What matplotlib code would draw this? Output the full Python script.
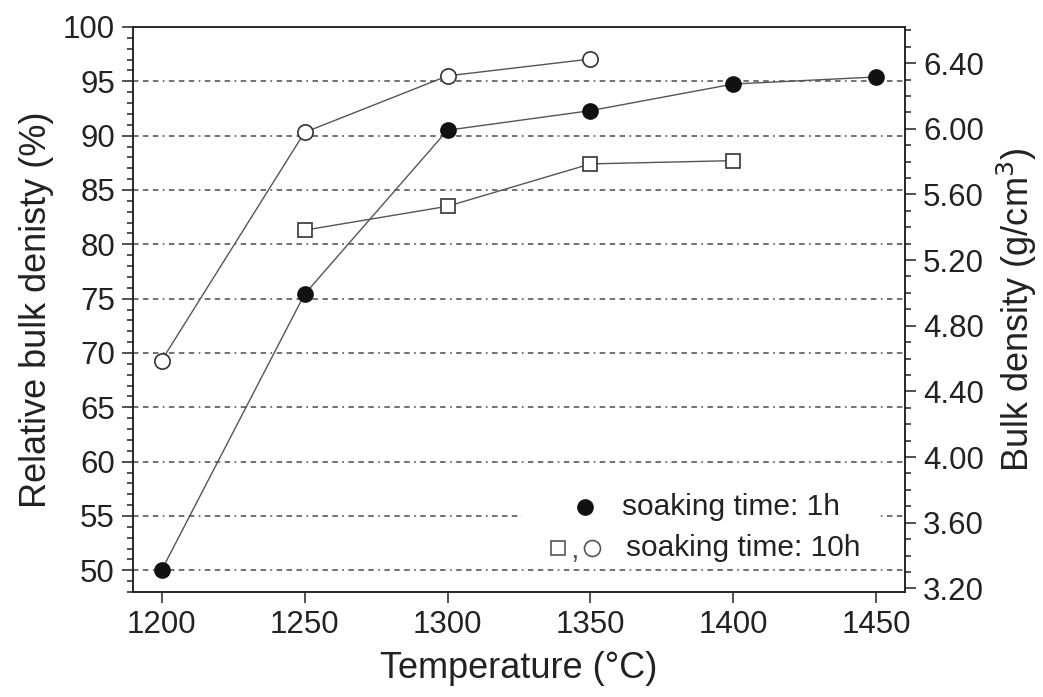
import matplotlib
matplotlib.use("Agg")
import matplotlib.pyplot as plt
from matplotlib.ticker import MultipleLocator, FormatStrFormatter
from matplotlib.patches import Rectangle

plt.rcParams['font.family'] = ['Liberation Sans', 'DejaVu Sans']

# Sintering temperature (°C)
temp_1h = [1200, 1250, 1300, 1350, 1400, 1450]
rel_1h = [50.0, 75.4, 90.5, 92.3, 94.75, 95.4]

temp_10h_circ = [1200, 1250, 1300, 1350]
rel_10h_circ = [69.3, 90.3, 95.5, 97.05]

temp_10h_sq = [1250, 1300, 1350, 1400]
rel_10h_sq = [81.3, 83.5, 87.4, 87.7]

x_ticks = [1200, 1250, 1300, 1350, 1400, 1450]
y_ticks = [50, 55, 60, 65, 70, 75, 80, 85, 90, 95, 100]
right_ticks = [3.20, 3.60, 4.00, 4.40, 4.80, 5.20, 5.60, 6.00, 6.40]

# bulk density (g/cm3) corresponding to 100 % relative density / 100
density_factor = 0.0662

text_col = '#222222'
line_col = '#555555'
tick_fs = 22.5

fig = plt.figure(figsize=(10.43, 6.97), dpi=100)
ax = fig.add_axes([0.1275, 0.1506, 0.7402, 0.8107])

ax.set_xlim(1190, 1460)
ax.set_ylim(48, 100)

# dash-dot horizontal guides
grid_dash = (0, (3.6, 2.9, 3.6, 2.9, 3.6, 2.9, 1.1, 2.9))
for yv in y_ticks[:-1]:
    ax.axhline(yv, color='#4a4a4a', lw=1.1, linestyle=grid_dash, zorder=1)

# series
ax.plot(temp_1h, rel_1h, color=line_col, lw=1.0, marker='o', ms=11,
        mfc='#111111', mec='#111111', zorder=3)
ax.plot(temp_10h_circ, rel_10h_circ, color=line_col, lw=1.0, marker='o', ms=11,
        mfc='white', mec='#333333', mew=1.2, zorder=3)
ax.plot(temp_10h_sq, rel_10h_sq, color=line_col, lw=1.0, marker='s', ms=10,
        mfc='white', mec='#333333', mew=1.2, zorder=3)

# legend block
ax.add_patch(Rectangle((0.504, 0.057), 0.461, 0.124, transform=ax.transAxes,
                       facecolor='white', edgecolor='none', zorder=2))
ax.plot([0.5855], [0.150], transform=ax.transAxes, marker='o', ms=11,
        mfc='#111111', mec='#111111', ls='none', zorder=4, clip_on=False)
ax.text(0.633, 0.150, 'soaking time: 1h', transform=ax.transAxes,
        fontsize=21.5, color=text_col, va='center', ha='left', zorder=4)
ax.plot([0.5505], [0.078], transform=ax.transAxes, marker='s', ms=10.5,
        mfc='white', mec='#555555', mew=1.2, ls='none', zorder=4, clip_on=False)
ax.text(0.5718, 0.074, ',', transform=ax.transAxes, fontsize=22,
        color='#555555', va='center', ha='center', zorder=4)
ax.plot([0.5946], [0.078], transform=ax.transAxes, marker='o', ms=11.5,
        mfc='white', mec='#555555', mew=1.2, ls='none', zorder=4, clip_on=False)
ax.text(0.6386, 0.078, 'soaking time: 10h', transform=ax.transAxes,
        fontsize=21.5, color=text_col, va='center', ha='left', zorder=4)

# left / bottom axes
ax.set_xticks(x_ticks)
ax.set_yticks(y_ticks)
ax.yaxis.set_minor_locator(MultipleLocator(1))
ax.tick_params(axis='both', which='major', direction='out', length=8, width=1.1,
               labelsize=tick_fs, labelcolor=text_col, color='#222222', pad=5)
ax.tick_params(axis='y', which='minor', direction='out', length=4.5, width=1.1,
               color='#222222')
for s in ax.spines.values():
    s.set_linewidth(1.1)
    s.set_color('#222222')

ax.set_xlabel('Temperature (°C)', fontsize=26, color=text_col, labelpad=8)
ax.set_ylabel('Relative bulk denisty (%)', fontsize=26, color=text_col, labelpad=6)

# right axis: absolute bulk density
ax2 = ax.twinx()
ax2.set_ylim(48 * density_factor, 100 * density_factor)
ax2.set_yticks(right_ticks)
ax2.yaxis.set_major_formatter(FormatStrFormatter('%.2f'))
ax2.yaxis.set_minor_locator(MultipleLocator(0.1))
ax2.tick_params(axis='y', which='major', direction='out', length=8, width=1.1,
                labelsize=tick_fs, labelcolor=text_col, color='#222222', pad=5)
ax2.tick_params(axis='y', which='minor', direction='out', length=4.5, width=1.1,
                color='#222222')
for s in ax2.spines.values():
    s.set_linewidth(1.1)
    s.set_color('#222222')
ax2.set_ylabel('Bulk density (g/cm$^3$)', fontsize=26, color=text_col, labelpad=8)

fig.savefig('out.png', dpi=100, facecolor='white')
